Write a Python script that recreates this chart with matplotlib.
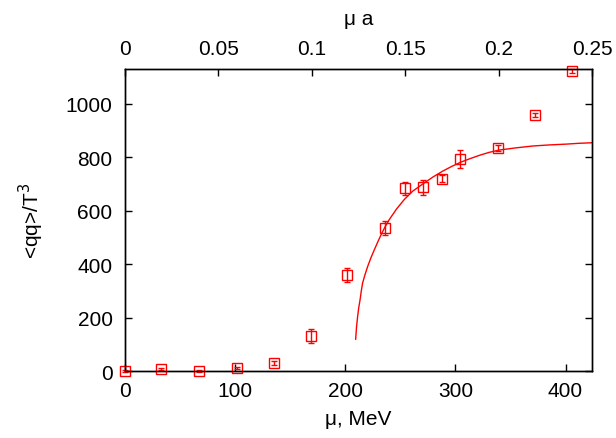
import matplotlib
matplotlib.use("Agg")
import matplotlib.pyplot as plt

plt.rcParams['font.family'] = ['Liberation Sans', 'DejaVu Sans']

# data points
mu = [0, 33, 67, 101.5, 135, 169, 202, 236, 254, 271, 288, 304.5, 338.5, 372, 406]
qq = [0, 7, 1, 11, 31, 131, 360, 535, 683, 688, 720, 792, 835, 958, 1122]
qq_err = [3, 4, 4, 5, 7, 28, 27, 25, 24, 28, 12, 34, 12, 8, 8]

# fit curve
fit_mu = [209.4, 210.2, 211.2, 212.2, 213.4, 214.5, 215.7, 218.0, 220.3, 223.3,
          226.4, 229.5, 232.5, 236.2, 240, 246.5, 253.6, 261.2, 271.8, 280.0,
          288.5, 296.8, 305.2, 313.5, 321.8, 330.5, 340, 355.0, 370.3, 385.5,
          400.6, 412.0, 423.4]
fit_qq = [119, 165, 204, 237, 266, 299, 329, 362, 391, 424,
          454, 483, 510, 540, 567, 606, 642, 673, 704, 727,
          748, 766, 782, 795, 807, 818, 827, 835, 842, 846,
          849, 852, 854]

x_ticks = [0, 100, 200, 300, 400]
y_ticks = [0, 200, 400, 600, 800, 1000]
top_ticks = [0, 0.05, 0.1, 0.15, 0.2, 0.25]
top_labels = ['0', '0.05', '0.1', '0.15', '0.2', '0.25']

FS = 15

fig = plt.figure(figsize=(6.16, 4.39), dpi=100)
ax = fig.add_axes([0.203, 0.1526, 0.758, 0.6879])

ax.plot(fit_mu, fit_qq, color='red', lw=1.0, zorder=2)
ax.errorbar(mu, qq, yerr=qq_err, fmt='s', mfc='none', mec='red', ecolor='red',
            ms=6.5, mew=1.0, elinewidth=1.0, capsize=2.5, capthick=1.0,
            clip_on=False, zorder=3)

ax.set_xlim(0, 424)
ax.set_ylim(0, 1130)
ax.set_xticks(x_ticks)
ax.set_yticks(y_ticks)
ax.tick_params(direction='in', length=5, width=1, labelsize=FS, pad=7,
               right=True)
ax.tick_params(axis='y', pad=9)
ax.set_xlabel('μ, MeV', fontsize=FS, labelpad=7)
ax.set_ylabel('<qq>/T$^3$', fontsize=FS, labelpad=14)

ax2 = ax.twiny()
ax2.set_xlim(0, 0.25)
ax2.set_xticks(top_ticks)
ax2.set_xticklabels(top_labels)
ax2.tick_params(direction='in', length=5, width=1, labelsize=FS, pad=8)
ax2.set_xlabel('μ a', fontsize=FS, labelpad=11)

for a in (ax, ax2):
    for s in a.spines.values():
        s.set_linewidth(1.0)

fig.savefig('out.png', dpi=100)
